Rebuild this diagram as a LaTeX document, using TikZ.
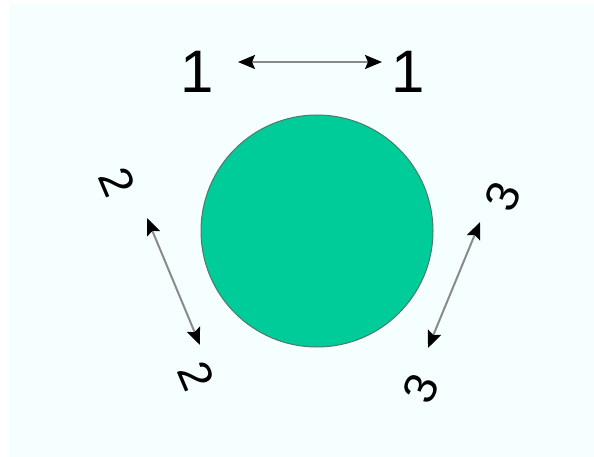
\documentclass[tikz,border=0pt]{standalone}
\usepackage{fontspec}
\setmainfont{Liberation Sans}
\usetikzlibrary{arrows.meta}
\definecolor{bgc}{HTML}{F5FFFF}
\definecolor{discfill}{HTML}{00CC99}
\definecolor{discline}{HTML}{4F7A6A}
\definecolor{shaft}{HTML}{8A8A8A}
\tikzset{
  lbl/.style={inner sep=0pt, font=\fontsize{46}{46}\selectfont},
  lblone/.style={inner sep=0pt, font=\fontsize{60}{60}\selectfont},
  dbl/.style={draw=shaft, line width=2pt, {Stealth[length=17pt,width=14pt,inset=3pt,color=black]}-{Stealth[length=17pt,width=14pt,inset=3pt,color=black]}}
}
\begin{document}
\begin{tikzpicture}[x=1pt,y=-1pt]
\useasboundingbox (0,0) rectangle (594,457);
\fill[white] (0,0) rectangle (594,457);
\fill[bgc] (9,3) rectangle (594,457);
% disc
\node[circle, draw=discline, fill=discfill, line width=1pt, minimum size=232pt, inner sep=0pt] (disc) at (317,231) {};
% labels
\node[lblone] (oneL) at (197,72) {1};
\node[lblone] (oneR) at (408,72) {1};
\node[lbl, rotate=-67] (twoU) at (117,182) {2};
\node[lbl, rotate=-67] (twoD) at (196,376) {2};
\node[lbl, rotate=67] (threeU) at (503,197) {3};
\node[lbl, rotate=67] (threeD) at (421,389) {3};
% arrow ends
\coordinate (a1) at (238,62);
\coordinate (b1) at (382,62);
\coordinate (a2) at (147,218);
\coordinate (b2) at (200,345);
\coordinate (a3) at (480,222);
\coordinate (b3) at (428,348);
\draw[dbl] (a1) -- (b1);
\draw[dbl] (a2) -- (b2);
\draw[dbl] (a3) -- (b3);
\end{tikzpicture}
\end{document}
